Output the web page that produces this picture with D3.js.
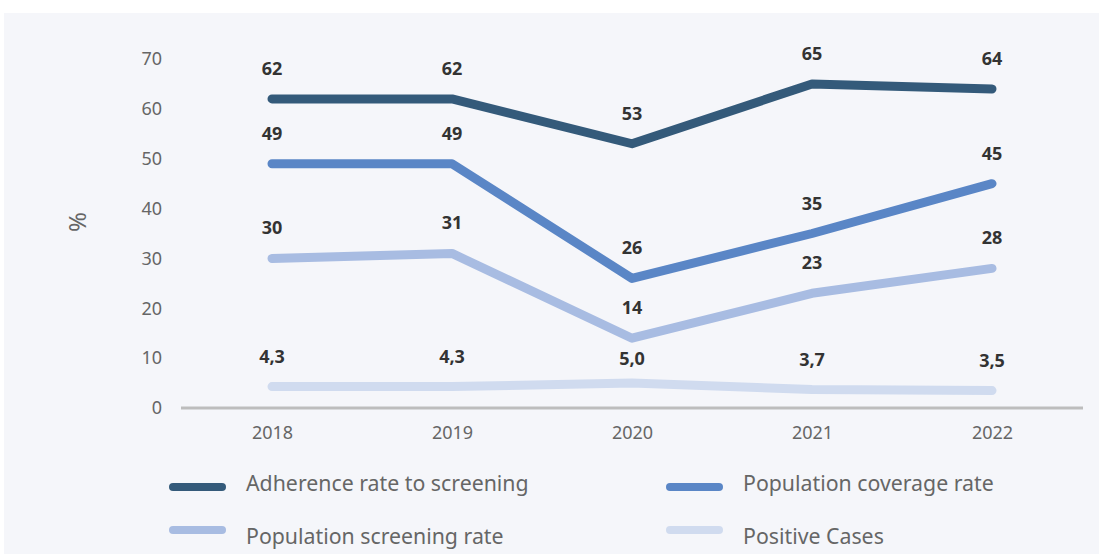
<!DOCTYPE html>
<html><head><meta charset="utf-8">
<script src="https://cdn.jsdelivr.net/npm/d3@7"></script>
<style>
html,body{margin:0;padding:0;background:#fff;}
svg{display:block;font-family:"Noto Sans",sans-serif;}
</style></head>
<body><svg id="c" width="1099" height="554"></svg>
<script>
const years = ["2018","2019","2020","2021","2022"];
const adherence = [62, 62, 53, 65, 64];
const coverage = [49, 49, 26, 35, 45];
const screening = [30, 31, 14, 23, 28];
const positive = [4.3, 4.3, 5.0, 3.7, 3.5];
const yTicks = [0,10,20,30,40,50,60,70];
const seriesNames = ["Adherence rate to screening","Population coverage rate","Population screening rate","Positive Cases"];
const seriesColors = ["#345a7a","#5a86c6","#a8bce2","#d0dbef"];

const series = [
  {name:seriesNames[0], values:adherence, color:seriesColors[0], dec:false},
  {name:seriesNames[1], values:coverage, color:seriesColors[1], dec:false},
  {name:seriesNames[2], values:screening, color:seriesColors[2], dec:false},
  {name:seriesNames[3], values:positive, color:seriesColors[3], dec:true}
];

const svg = d3.select("#c");
svg.append("rect").attr("x",4).attr("y",13).attr("width",1095).attr("height",541).attr("fill","#f5f6fa");

const x = d3.scalePoint().domain(years).range([272,992]);
const y = d3.scaleLinear().domain([0,70]).range([408,59]);

const yAxis = svg.append("g").attr("transform","translate(162,0)")
  .call(d3.axisLeft(y).tickValues(yTicks).tickSize(0).tickPadding(0));
yAxis.select(".domain").remove();
yAxis.selectAll("text").attr("font-size",18).attr("fill","#666").attr("font-family","Noto Sans");

const xAxis = svg.append("g").attr("transform","translate(0,408)")
  .call(d3.axisBottom(x).tickSize(0).tickPadding(18));
xAxis.select(".domain").remove();
xAxis.selectAll("text").attr("font-size",18).attr("fill","#666").attr("font-family","Noto Sans");
svg.append("line").attr("x1",181).attr("x2",1083).attr("y1",408).attr("y2",408)
  .attr("stroke","#bdbdbd").attr("stroke-width",3);

svg.append("text").attr("transform","translate(86,222) rotate(-90)")
  .attr("text-anchor","middle").attr("font-size",24).attr("fill","#666").text("%");

const line = d3.line().x((d,i)=>x(years[i])).y(d=>y(d));
const fmt = (v,dec)=> dec ? d3.format(".1f")(v).replace(".",",") : String(v);

series.slice().reverse().forEach(s=>{
  svg.append("path").attr("d",line(s.values)).attr("fill","none")
    .attr("stroke",s.color).attr("stroke-width",9)
    .attr("stroke-linecap","round").attr("stroke-linejoin","round");
});
const labelDy = (s,i)=> (s.dec && i===2) ? -18 : -24;
series.forEach(s=>{
  svg.append("g").selectAll("text").data(s.values).join("text")
    .attr("x",(d,i)=>x(years[i])).attr("y",(d,i)=>y(d)+labelDy(s,i))
    .attr("text-anchor","middle").attr("font-size",18).attr("font-weight","bold")
    .attr("fill","#333").text(d=>fmt(d,s.dec));
});

const legPos = [[169,487],[666,487],[169,530],[666,530]];
series.forEach((s,i)=>{
  const [lx,ly] = legPos[i];
  svg.append("line").attr("x1",lx+4).attr("x2",lx+53).attr("y1",ly).attr("y2",ly)
    .attr("stroke",s.color).attr("stroke-width",8).attr("stroke-linecap","round");
  svg.append("text").attr("x",lx+77).attr("y",ly+(i<2?4:14)).attr("font-size",21.3)
    .attr("fill","#666").text(s.name);
});
</script></body></html>
